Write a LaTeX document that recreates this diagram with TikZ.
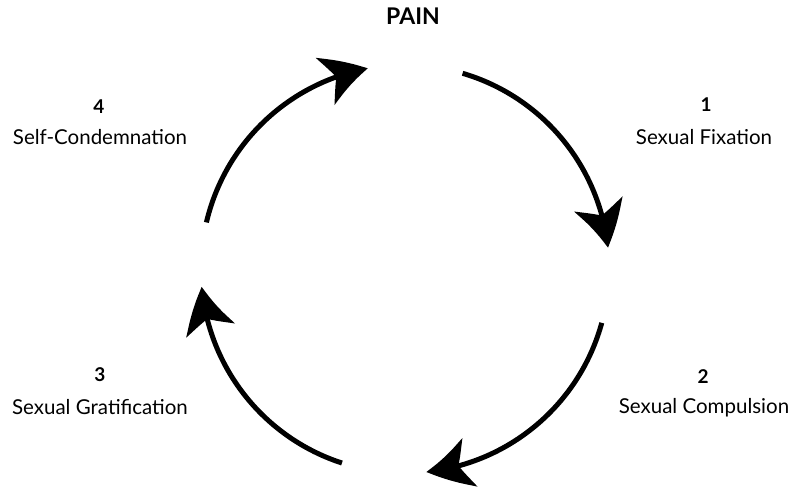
\documentclass[tikz,border=0pt]{standalone}
\usepackage{fontspec}
\setmainfont{Lato}
\usetikzlibrary{arrows.meta,bending}
\begin{document}
\begin{tikzpicture}[x=1pt,y=1pt,
  cyc/.style={line width=5pt, -{Stealth[length=45pt,width=50pt,inset=12pt,bend]}},
  num/.style={font=\fontsize{19}{22}\selectfont\bfseries},
  lbl/.style={font=\fontsize{20.5}{24}\selectfont},
  head/.style={font=\fontsize{23}{26}\selectfont\bfseries}]
\useasboundingbox (0,0) rectangle (791,490);
\coordinate (c) at (405,221);
\coordinate (s1) at ([shift={(73.6:204)}]c);
\coordinate (s2) at ([shift={(-15.3:204)}]c);
\coordinate (s3) at ([shift={(-108:204)}]c);
\coordinate (s4) at ([shift={(166.8:204)}]c);
\draw[cyc] (s1) arc[start angle=73.6, end angle=6, radius=204];
\draw[cyc] (s2) arc[start angle=-15.3, end angle=-84, radius=204];
\draw[cyc] (s3) arc[start angle=-108, end angle=-175, radius=204];
\draw[cyc] (s4) arc[start angle=166.8, end angle=100.5, radius=204];
\node[head] (pain) at (413,474) {PAIN};
\node[num] (n1) at (706,385) {1};
\node[lbl] (l1) at (704,353) {Sexual Fixation};
\node[num] (n2) at (703,113) {2};
\node[lbl] (l2) at (704,82) {Sexual Compulsion};
\node[num] (n3) at (100,115) {3};
\node[lbl] (l3) at (100,83) {Sexual Gratification};
\node[num] (n4) at (99,383) {4};
\node[lbl] (l4) at (100,353) {Self-Condemnation};
\end{tikzpicture}
\end{document}
